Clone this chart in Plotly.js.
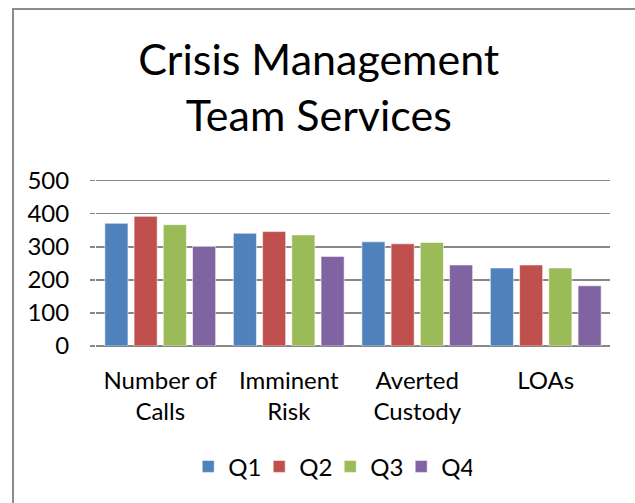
<!DOCTYPE html>
<html>
<head>
<meta charset="utf-8">
<script src="https://cdn.plot.ly/plotly-3.0.1.min.js"></script>
<style>
html,body{margin:0;padding:0;background:#fff;}
#wrap{position:relative;width:635px;height:503px;overflow:hidden;}
#chart{width:635px;height:503px;}
#frame{position:absolute;left:12px;top:8px;width:640px;height:520px;border-left:2px solid #8c8c8c;border-top:2px solid #8c8c8c;pointer-events:none;}
</style>
</head>
<body>
<div id="wrap"><div id="chart"></div><div id="frame"></div></div>
<script>
var categories = ["Number of<br>Calls", "Imminent<br>Risk", "Averted<br>Custody", "LOAs"];
var seriesNames = ["Q1", "Q2", "Q3", "Q4"];
var q1 = [371, 341, 315, 236];
var q2 = [392, 346, 309, 245];
var q3 = [367, 336, 313, 236];
var q4 = [301, 271, 245, 182];
var yTicks = [0, 100, 200, 300, 400, 500];
var colors = ["#4F81BD", "#C0504D", "#9BBB59", "#8064A2"];
var values = [q1, q2, q3, q4];

var fontFam = "Lato, 'Open Sans', sans-serif";
var traces = seriesNames.map(function(n, i){
  return {
    type: "bar", name: n, x: categories, y: values[i],
    marker: {color: colors[i], line: {color: "rgba(255,255,255,0.55)", width: 1}},
    hoverinfo: "x+y+name"
  };
});

var layout = {
  width: 635, height: 503,
  paper_bgcolor: "#fff", plot_bgcolor: "#fff",
  margin: {l: 96, r: 25, t: 179, b: 157},
  font: {family: fontFam, color: "#000", size: 24},
  title: {
    text: "Crisis Management<br>Team Services",
    font: {family: fontFam, size: 43, color: "#000"},
    x: 0.502, xref: "container", xanchor: "center",
    y: 0.851, yref: "container", yanchor: "middle"
  },
  barmode: "group", bargap: 0.09, bargroupgap: 0.21,
  xaxis: {
    type: "category", showgrid: false, zeroline: false,
    showline: false, ticks: "", tickfont: {size: 24},
    ticklabelstandoff: 18
  },
  yaxis: {
    range: [0, 505], tickvals: yTicks, ticktext: yTicks.map(String),
    showgrid: true, gridcolor: "#878787", gridwidth: 1.5,
    zeroline: true, zerolinecolor: "#878787", zerolinewidth: 1.5,
    ticks: "outside", ticklen: 5, tickcolor: "#878787", tickwidth: 1.5,
    tickfont: {size: 24}, ticklabelstandoff: 16, fixedrange: true
  },
  showlegend: true,
  legend: {
    orientation: "h", xref: "container", yref: "container",
    x: 0.520, xanchor: "center", y: 0.072, yanchor: "middle",
    font: {size: 24}, itemwidth: 30, traceorder: "normal",
    entrywidth: 26, entrywidthmode: "pixels"
  }
};
Plotly.newPlot("chart", traces, layout, {displayModeBar: false, staticPlot: true});
</script>
</body>
</html>
